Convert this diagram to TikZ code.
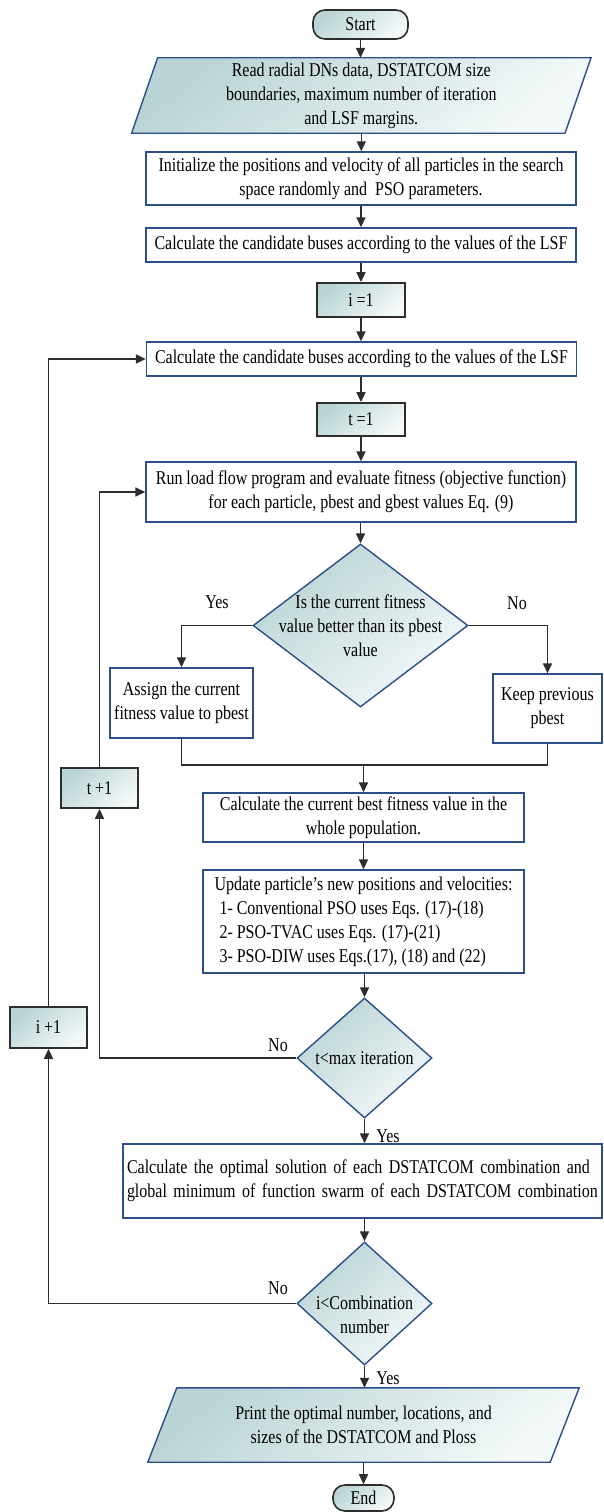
\documentclass[tikz,border=0pt]{standalone}
\usepackage{fontspec}
\setmainfont{Liberation Serif}[FakeStretch=0.82]
\usetikzlibrary{shapes.geometric,arrows.meta,backgrounds,calc}
\definecolor{boxblue}{RGB}{44,79,138}
\definecolor{linec}{RGB}{45,45,45}
\definecolor{fillA}{RGB}{186,212,213}
\definecolor{fillB}{RGB}{244,249,249}
\newcommand\mainsz{\fontsize{19.5}{24}\selectfont}
\begin{document}
\begin{tikzpicture}[x=1pt,y=-1pt,
 every node/.style={font=\mainsz, inner sep=0pt},
 proc/.style={draw=boxblue, line width=1.4pt, fill=white, align=center},
 shd/.style={top color=fillA, bottom color=fillB, shading angle=40},
 cnt/.style={shd, draw=linec, line width=1.8pt, align=center},
 term/.style={shd, draw=linec, line width=1.6pt, rounded corners=12pt},
 dec/.style={diamond, shd, draw=boxblue, line width=1.4pt},
 para/.style={shd, draw=boxblue, line width=1.4pt},
 arr/.style={draw=linec, line width=1.6pt, -{Triangle[length=10pt,width=9pt]}},
 ln/.style={draw=linec, line width=1.6pt}
]
\useasboundingbox (0,0) rectangle (603,1512);

% nodes
\node[term, minimum width=95pt, minimum height=29pt] (start) at (360.5,24.5) {Start};
\node[minimum width=433pt, minimum height=75pt, align=center] (p1) at (361.3,95.5)
  {Read radial DNs data, DSTATCOM size\\boundaries, maximum number of iteration\\and LSF margins.};
\node[proc, minimum width=430pt, minimum height=53pt] (b2) at (361,178.5)
  {Initialize the positions and velocity of all particles in the search\\space randomly and~ PSO parameters.};
\node[proc, minimum width=430pt, minimum height=34pt] (b3) at (361,245)
  {Calculate the candidate buses according to the values of the LSF};
\node[cnt, minimum width=88pt, minimum height=34pt] (i1) at (361,300) {i =1};
\node[proc, minimum width=430pt, minimum height=34pt] (b4) at (361.5,359)
  {Calculate the candidate buses according to the values of the LSF};
\node[cnt, minimum width=88pt, minimum height=33pt] (t1) at (361,419.5) {t =1};
\node[proc, minimum width=430pt, minimum height=60pt] (b5) at (361,492)
  {Run load flow program and evaluate fitness (objective function)\\for each particle, pbest and gbest values Eq. (9)};
\node[dec, minimum width=215pt, minimum height=163pt] (d1) at (360.5,625.5) {};
\node[align=center] (d1t) at (d1.center) {Is the current fitness\\value better than its pbest\\value};
\node (yes1) at (217,602) {Yes};
\node (no1) at (517,603) {No};
\node[proc, minimum width=143pt, minimum height=70pt] (assign) at (181.5,703)
  {Assign the current\\fitness value to pbest};
\node[proc, minimum width=109pt, minimum height=69pt] (keep) at (547.5,708.5)
  {Keep previous\\pbest};
\coordinate (m) at (363.5,765);
\node[proc, minimum width=321pt, minimum height=49pt] (b6) at (363.5,817.5)
  {Calculate the current best fitness value in the\\whole population.};
\node[proc, minimum width=321pt, minimum height=103pt, align=left] (b7) at (363.5,921.5)
  {Update particle’s new positions and velocities:\\\hspace*{5pt}1- Conventional PSO uses Eqs. (17)-(18)\\\hspace*{5pt}2- PSO-TVAC uses Eqs. (17)-(21)\\\hspace*{5pt}3- PSO-DIW uses Eqs.(17), (18) and (22)};
\node[dec, minimum width=135pt, minimum height=120pt] (d2) at (364.5,1058) {};
\node (d2t) at (d2.center) {t<max iteration};
\node (no2) at (278,1045) {No};
\node (yes2) at (388,1136) {Yes};
\node[cnt, minimum width=77pt, minimum height=40pt] (tp1) at (99.5,788) {t +1};
\node[proc, text width=471pt, inner xsep=4pt, minimum height=74pt, align=left] (b8) at (362.5,1181)
  {\makebox[471pt][s]{Calculate the optimal solution of each DSTATCOM combination and}\\global minimum of function swarm of each DSTATCOM combination};
\node[dec, minimum width=135pt, minimum height=123pt] (d3) at (364.5,1303.5) {};
\node[align=center] (d3t) at (364.5,1315) {i<Combination\\number};
\node (no3) at (278,1288) {No};
\node (yes3) at (388,1378) {Yes};
\node[cnt, minimum width=77pt, minimum height=41pt] (ip1) at (48.5,1027.5) {i +1};
\node[minimum width=402pt, minimum height=74pt, align=center] (p2) at (363.5,1425)
  {Print the optimal number, locations, and\\sizes of the DSTATCOM and Ploss};
\node[term, minimum width=61pt, minimum height=26pt] (end) at (363.5,1498) {End};

% background shapes
\begin{pgfonlayer}{background}
\fill[white] (0,0) rectangle (603,1512);
\draw[para] ([xshift=13pt]p1.north west) -- ([xshift=13pt]p1.north east)
  -- ([xshift=-13pt]p1.south east) -- ([xshift=-13pt]p1.south west) -- cycle;
\draw[para] ([xshift=14.5pt]p2.north west) -- ([xshift=14.5pt]p2.north east)
  -- ([xshift=-14.5pt]p2.south east) -- ([xshift=-14.5pt]p2.south west) -- cycle;
\end{pgfonlayer}

% connectors
\draw[arr] (start.south) -- (start.south |- p1.north);
\draw[arr] (p1.south) -- (p1.south |- b2.north);
\draw[arr] (b2.south) -- (b2.south |- b3.north);
\draw[arr] (b3.south) -- (b3.south |- i1.north);
\draw[arr] (i1.south) -- (i1.south |- b4.north);
\draw[arr] (t1.north |- b4.south) -- (t1.north);
\draw[arr] (t1.south) -- (t1.south |- b5.north);
\draw[arr] (d1.north |- b5.south) -- (d1.north);
\draw[arr] (d1.west) -| (assign.north);
\draw[arr] (d1.east) -| (keep.north);
\draw[ln] (assign.south) |- (m) -| (keep.south);
\draw[arr] (m) -- (m |- b6.north);
\draw[arr] (b6.south) -- (b6.south |- b7.north);
\draw[arr] (d2.north |- b7.south) -- (d2.north);
\draw[arr] (d2.west) -| (tp1.south);
\draw[arr] (tp1.north) |- (b5.west);
\draw[arr] (d2.south) -- (d2.south |- b8.north);
\draw[arr] (d3.north |- b8.south) -- (d3.north);
\draw[arr] (d3.west) -| (ip1.south);
\draw[arr] (ip1.north) |- (b4.west);
\draw[arr] (d3.south) -- (d3.south |- p2.north);
\draw[arr] (end.north |- p2.south) -- (end.north);
\end{tikzpicture}
\end{document}
